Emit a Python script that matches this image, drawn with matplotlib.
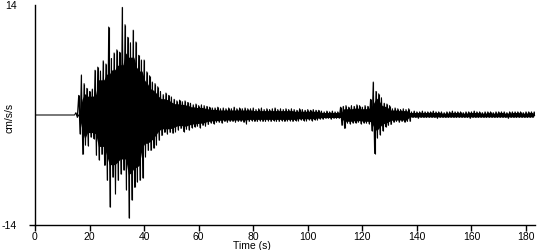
import numpy as np
import matplotlib
matplotlib.use("Agg")
import matplotlib.pyplot as plt

plt.rcParams["axes.unicode_minus"] = False

# Envelope of the acceleration trace, one value per second (t = 0 .. 183 s)
# upper = positive peak in the second, lower = magnitude of negative peak
upper = ([0.0] * 15 +
         [0.3, 2.5, 5.1, 4.0, 3.4, 3.0, 3.3, 5.7, 6.1, 5.6,
          6.9, 6.5, 11.2, 7.2, 7.9, 8.3, 8.0, 13.7, 11.5, 9.9,
          9.2, 10.8, 9.3, 7.6, 7.0, 7.0, 5.5, 5.0, 4.2, 4.0,
          3.6, 3.0, 2.6, 2.8, 2.5, 2.3, 2.0, 1.8, 1.9, 1.7,
          1.8, 1.6, 1.5, 1.3, 1.4, 1.2, 1.3, 1.2, 1.1, 1.0,
          0.9, 0.9, 1.0, 0.8, 0.9, 0.8, 0.9, 0.8, 1.0, 0.8,
          0.9, 0.8, 0.9, 0.8, 0.8, 0.9, 0.7, 0.8, 0.9, 0.7,
          0.8, 0.7, 0.8, 0.9, 0.7, 0.8, 0.7, 0.8, 0.7, 0.8,
          0.7, 0.6, 0.8, 0.7, 0.6, 0.7, 0.6, 0.7, 0.6, 0.6,
          0.5, 0.4, 0.5, 0.4, 0.5, 0.4, 0.4, 1.0, 1.1, 1.2,
          1.0, 1.2, 1.1, 1.3, 1.2, 1.0, 1.2, 1.1, 2.0, 4.2,
          3.0, 2.7, 2.2, 1.5, 1.4, 1.2, 0.8, 0.9, 0.8, 0.7,
          0.8, 0.7, 0.8, 0.4, 0.5, 0.4, 0.4, 0.5, 0.4, 0.4,
          0.4, 0.5, 0.4, 0.4, 0.4, 0.3, 0.4, 0.4, 0.5, 0.4,
          0.4, 0.4, 0.3, 0.4, 0.4, 0.4, 0.5, 0.4, 0.4, 0.3,
          0.4, 0.4, 0.4, 0.3, 0.4, 0.4, 0.4, 0.4, 0.3, 0.4,
          0.4, 0.4, 0.4, 0.4, 0.3, 0.4, 0.4, 0.4, 0.4])
lower = ([0.0] * 15 +
         [0.3, 2.4, 5.0, 3.8, 3.9, 2.8, 3.0, 5.1, 5.7, 5.0,
          6.4, 8.3, 11.7, 7.9, 10.0, 8.3, 7.5, 7.0, 9.5, 13.1,
          10.8, 9.2, 8.5, 8.3, 8.0, 5.3, 4.5, 4.5, 4.2, 3.8,
          3.2, 2.6, 2.2, 2.4, 2.2, 2.3, 2.1, 1.9, 1.7, 2.1,
          1.8, 1.9, 1.6, 1.5, 1.4, 1.6, 1.3, 1.4, 1.2, 1.0,
          1.1, 0.9, 0.9, 1.0, 0.8, 0.9, 0.8, 0.8, 0.9, 0.8,
          0.8, 0.9, 1.1, 0.8, 0.7, 0.8, 0.8, 0.7, 0.8, 0.8,
          0.7, 0.8, 0.7, 0.8, 0.8, 0.7, 0.8, 0.7, 0.7, 0.8,
          0.7, 0.7, 0.6, 0.7, 0.7, 0.6, 0.7, 0.6, 0.6, 0.5,
          0.5, 0.4, 0.4, 0.5, 0.4, 0.4, 0.4, 1.3, 1.7, 1.0,
          1.1, 1.0, 1.0, 0.9, 1.1, 1.0, 1.0, 1.1, 2.0, 4.9,
          2.9, 2.5, 2.0, 1.5, 1.3, 1.2, 0.9, 0.8, 0.9, 0.8,
          0.9, 0.8, 0.8, 0.3, 0.3, 0.4, 0.3, 0.3, 0.3, 0.3,
          0.3, 0.3, 0.4, 0.3, 0.3, 0.3, 0.3, 0.3, 0.3, 0.3,
          0.3, 0.3, 0.3, 0.3, 0.4, 0.3, 0.3, 0.3, 0.3, 0.3,
          0.3, 0.3, 0.3, 0.3, 0.3, 0.3, 0.3, 0.3, 0.4, 0.3,
          0.3, 0.3, 0.3, 0.3, 0.3, 0.3, 0.3, 0.3, 0.3])

x_ticks = [0, 20, 40, 60, 80, 100, 120, 140, 160, 180]
y_ticks = [-14, 14]

t = np.arange(len(upper), dtype=float)
up = np.array(upper)
lo = -np.array(lower)

# solid core of the trace: reduced local minimum of the envelope over neighbouring seconds
core_frac = 0.8
up_core = core_frac * np.minimum(np.minimum(up, np.roll(up, 1)), np.roll(up, -1))
lo_core = core_frac * np.maximum(np.maximum(lo, np.roll(lo, 1)), np.roll(lo, -1))

# zig-zag trace alternating between peak and trough within each second
tx = np.empty(2 * len(t))
ty = np.empty(2 * len(t))
tx[0::2] = t
tx[1::2] = t + 0.5
ty[0::2] = up
ty[1::2] = lo

fig = plt.figure(figsize=(5.5, 2.5), dpi=100)
ax = fig.add_axes([35 / 550, 0.1, 500 / 550, 0.88])
ax.fill_between(t + 0.25, lo_core, up_core, color="black", lw=0)
ax.vlines(t, 0, up, color="black", lw=0.8)
ax.vlines(t + 0.5, lo, 0, color="black", lw=0.8)
ax.plot(tx, ty, color="black", lw=0.75)

ax.set_xlim(0, 183.3)
ax.set_ylim(-14, 14)
for s in ("top", "right"):
    ax.spines[s].set_visible(False)
for s in ("left", "bottom"):
    ax.spines[s].set_linewidth(1.0)

ax.set_xticks(x_ticks)
ax.set_yticks(y_ticks)
ax.tick_params(axis="x", direction="out", length=4, width=1,
               labelsize=7.5, pad=1)
ax.tick_params(axis="y", direction="out", length=4, width=1,
               labelsize=7.5, pad=9)
ax.yaxis.get_major_ticks()[1].tick1line.set_visible(False)
for lab in ax.get_xticklabels() + ax.get_yticklabels():
    lab.set_family("Liberation Sans")

ax.set_xlabel("Time (s)", fontsize=7.5, family="Liberation Sans")
ax.xaxis.set_label_coords(0.434, -0.074)
ax.set_ylabel("cm/s/s", fontsize=7.5, family="Liberation Sans")
ax.yaxis.set_label_coords(-0.04, 0.486)

fig.savefig("out.png", dpi=100)
